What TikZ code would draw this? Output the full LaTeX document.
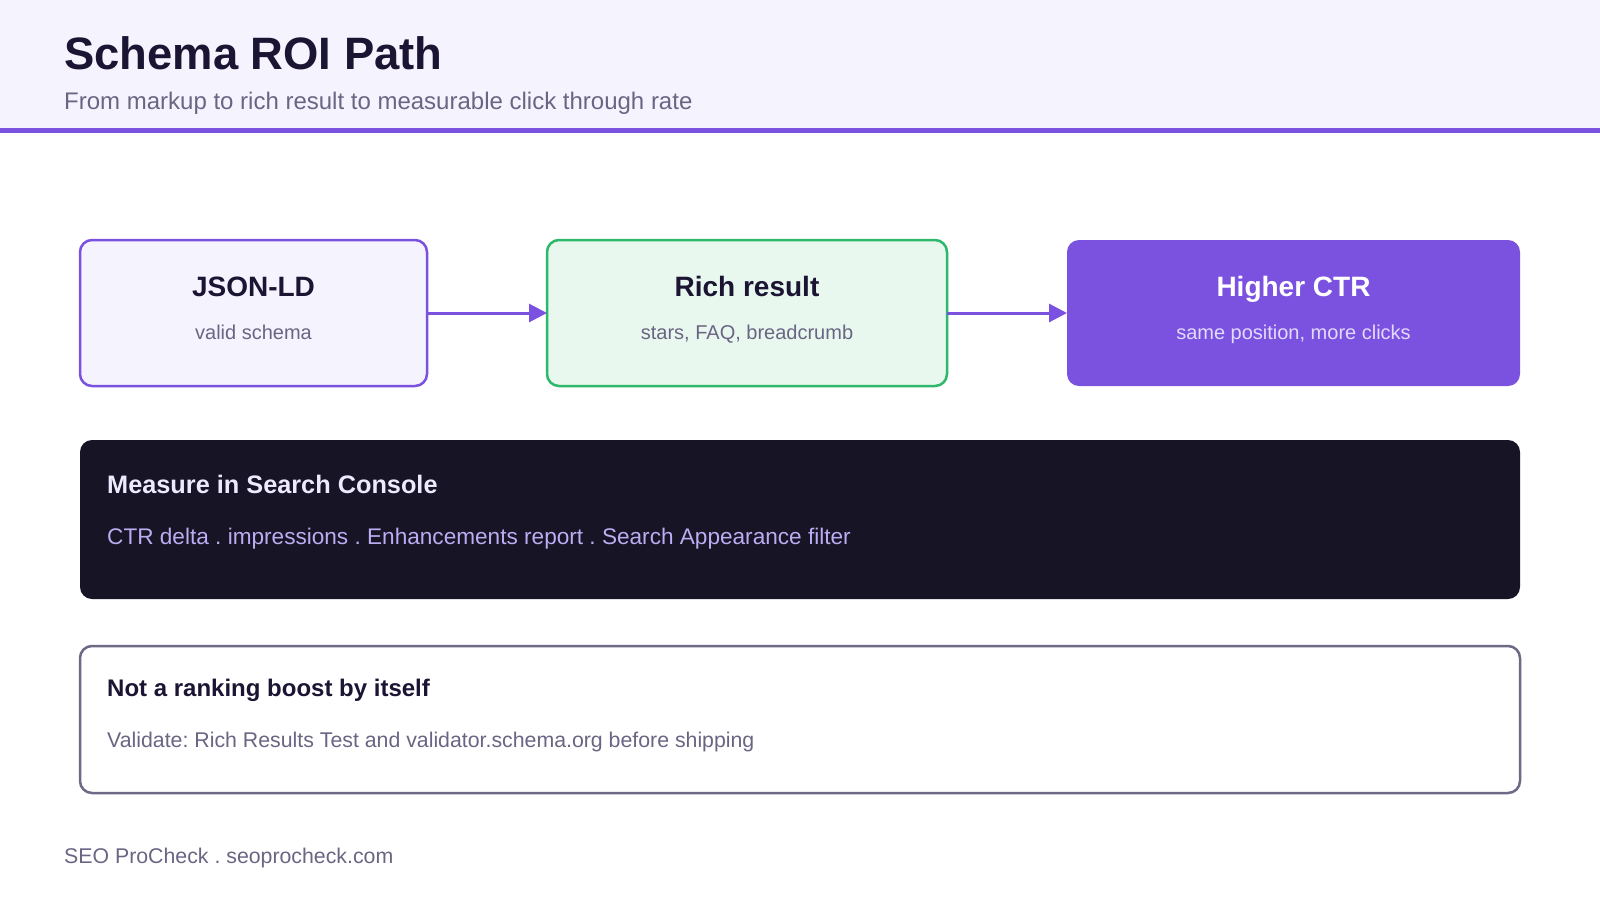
\documentclass[tikz,border=0pt]{standalone}
\usepackage{fontspec}
\setmainfont{Liberation Sans}
\usetikzlibrary{arrows.meta}
\definecolor{headbg}{HTML}{F5F3FE}
\definecolor{purp}{HTML}{7B52E0}
\definecolor{ink}{HTML}{1B1433}
\definecolor{muted}{HTML}{6B6584}
\definecolor{grnline}{HTML}{2DB86B}
\definecolor{grnfill}{HTML}{E8F8EE}
\definecolor{night}{HTML}{171425}
\definecolor{nighttitle}{HTML}{EDE9FE}
\definecolor{nighttext}{HTML}{BCACF2}
\definecolor{ctrsub}{HTML}{E3DAFF}
\definecolor{frame}{HTML}{6E6A86}
\newcommand\pxfont[1]{\fontsize{#1}{#1}\selectfont}
\frenchspacing
\begin{document}
\begin{tikzpicture}[x=1pt,y=-1pt,
  card/.style={rounded corners=12pt, line width=2.5pt, inner sep=0pt, outer sep=0pt, minimum height=146pt},
  ctitle/.style={anchor=base, inner sep=0pt, font=\bfseries\pxfont{28}},
  csub/.style={anchor=base, inner sep=0pt, font=\pxfont{20}},
  ltitle/.style={anchor=base west, inner sep=0pt, font=\bfseries\pxfont{25.3}},
  ltext/.style={anchor=base west, inner sep=0pt, font=\pxfont{22.6}},
  flow/.style={draw=purp, line width=3pt, -{Triangle[length=18pt,width=18pt]}}
]
\useasboundingbox (0,0) rectangle (1600,900);
\fill[white] (0,0) rectangle (1600,900);
% header
\fill[headbg] (0,0) rectangle (1600,129);
\fill[purp] (0,128) rectangle (1600,133);
\node[anchor=base west, inner sep=0pt, text=ink, font=\bfseries\pxfont{45.4}] (title) at (64,69) {Schema ROI Path};
\node[anchor=base west, inner sep=0pt, text=muted, font=\pxfont{24}] (subtitle) at (64,109) {From markup to rich result to measurable click through rate};
% top cards
\node[card, draw=purp, fill=headbg, minimum width=347pt] (json) at (253.5,313) {};
\node[card, draw=grnline, fill=grnfill, minimum width=400pt] (rich) at (747,313) {};
\node[card, draw=none, fill=purp, minimum width=453pt] (ctr) at (1293.5,313) {};
\node[ctitle, text=ink] (jsonT) at (253.5,296) {JSON-LD};
\node[csub, text=muted] (jsonS) at (253.5,339) {valid schema};
\node[ctitle, text=ink] (richT) at (747,296) {Rich result};
\node[csub, text=muted] (richS) at (747,339) {stars, FAQ, breadcrumb};
\node[ctitle, text=white] (ctrT) at (1293.5,296) {Higher CTR};
\node[csub, text=ctrsub] (ctrS) at (1293.5,339) {same position, more clicks};
\draw[flow] (json.east) -- (rich.west);
\draw[flow] (rich.east) -- (ctr.west);
% dark panel
\node[card, fill=night, draw=none, minimum width=1440pt, minimum height=159pt] (measure) at (800,519.5) {};
\node[ltitle, text=nighttitle] (measureT) at (107,493) {Measure in Search Console};
\node[ltext, text=nighttext] (measureS) at (107,544) {CTR delta . impressions . Enhancements report . Search Appearance filter};
% outlined panel
\node[card, draw=frame, fill=white, minimum width=1440pt, minimum height=147pt] (note) at (800,719.5) {};
\node[ltitle, text=ink, font=\bfseries\pxfont{24}] (noteT) at (107,696) {Not a ranking boost by itself};
\node[ltext, text=muted, font=\pxfont{21.3}] (noteS) at (107,747) {Validate: Rich Results Test and validator.schema.org before shipping};
% footer
\node[anchor=base west, inner sep=0pt, text=muted, font=\pxfont{21.3}] (footer) at (64,863) {SEO ProCheck . seoprocheck.com};
\end{tikzpicture}
\end{document}
